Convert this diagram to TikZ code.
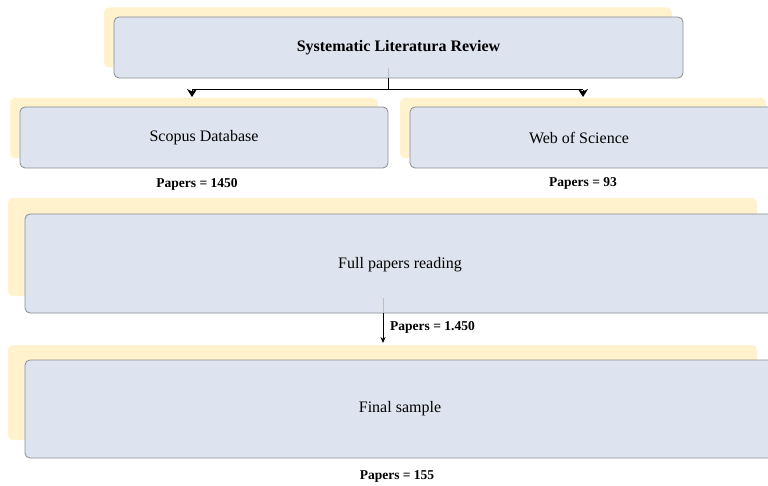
\documentclass[tikz,border=0pt]{standalone}
\usepackage{fontspec}
\setmainfont{Liberation Serif}
\usetikzlibrary{arrows.meta}
\definecolor{boxblue}{HTML}{DDE4EF}
\definecolor{boxedge}{HTML}{8C8C8C}
\definecolor{backyellow}{HTML}{FFF2CC}
\begin{document}
\begin{tikzpicture}[x=1pt,y=-1pt,
  back/.style={draw=none,fill=backyellow,rounded corners=5pt,inner sep=0pt},
  front/.style={draw=boxedge,line width=0.8pt,fill=boxblue,rounded corners=5pt,inner sep=0pt,font=\fontsize{16}{18}\selectfont},
  label/.style={font=\fontsize{16}{18}\selectfont,inner sep=0pt},
  count/.style={font=\bfseries\fontsize{13.5}{15}\selectfont,inner sep=1pt},
  conn/.style={line width=1pt,black},
  faint/.style={line width=0.8pt,gray!50}]
\useasboundingbox (0,0) rectangle (768,486);
\clip (0,0) rectangle (768,486);
% background shadows
\node[back,minimum width=568pt,minimum height=60pt] (ytop) at (388,37.5) {};
\node[back,minimum width=368pt,minimum height=60pt] (yscop) at (194,128) {};
\node[back,minimum width=366pt,minimum height=60pt] (ywos) at (583,128) {};
\node[back,minimum width=749pt,minimum height=98pt] (yfull) at (382.5,247) {};
\node[back,minimum width=749pt,minimum height=95pt] (yfinal) at (382.5,392.5) {};
% front boxes
\node[front,minimum width=569pt,minimum height=61pt,font=\bfseries\fontsize{16}{18}\selectfont] (top) at (398.5,47.5) {Systematic Literatura Review};
\node[front,minimum width=368pt,minimum height=61pt] (scop) at (204,137.5) {Scopus Database};
\node[front,minimum width=368pt,minimum height=61pt] (wos) at (594,137.5) {};
\node[label] (wostext) at (579,137.5) {Web of Science};
\node[front,minimum width=750pt,minimum height=99pt] (full) at (400,263.5) {};
\node[label] (fulltext) at (400,265) {Full papers reading};
\node[front,minimum width=750pt,minimum height=98pt] (final) at (400,409) {};
\node[label] (finaltext) at (400,409) {Final sample};
% counts
\node[count] (c1) at (197,184) {Papers = 1450};
\node[count] (c2) at (583,183) {Papers = 93};
\node[count,anchor=west] (c3) at (389,327) {Papers = 1.450};
\node[count] (c4) at (397,476) {Papers = 155};
% connectors
\coordinate (stem) at (388,78);
\coordinate (split) at (388,90);
\coordinate (lft) at (192,90);
\coordinate (rgt) at (583,90);
\coordinate (lend) at (192,97);
\coordinate (rend) at (583,97);
\draw[faint] (388,68) -- (stem);
\draw[conn] (stem) -- (split);
\draw[conn] (lft) -- (rgt);
\draw[conn,-{Stealth[length=8pt,width=10pt,inset=2.5pt]}] (lft) -- (lend);
\draw[conn,-{Stealth[length=8pt,width=10pt,inset=2.5pt]}] (rgt) -- (rend);
\coordinate (fstart) at (383,298);
\coordinate (fbot) at (383,313);
\coordinate (fend) at (383,343);
\draw[faint] (fstart) -- (fbot);
\draw[line width=0.8pt,-{Stealth[length=6pt,width=5pt]}] (fbot) -- (fend);
\end{tikzpicture}
\end{document}
